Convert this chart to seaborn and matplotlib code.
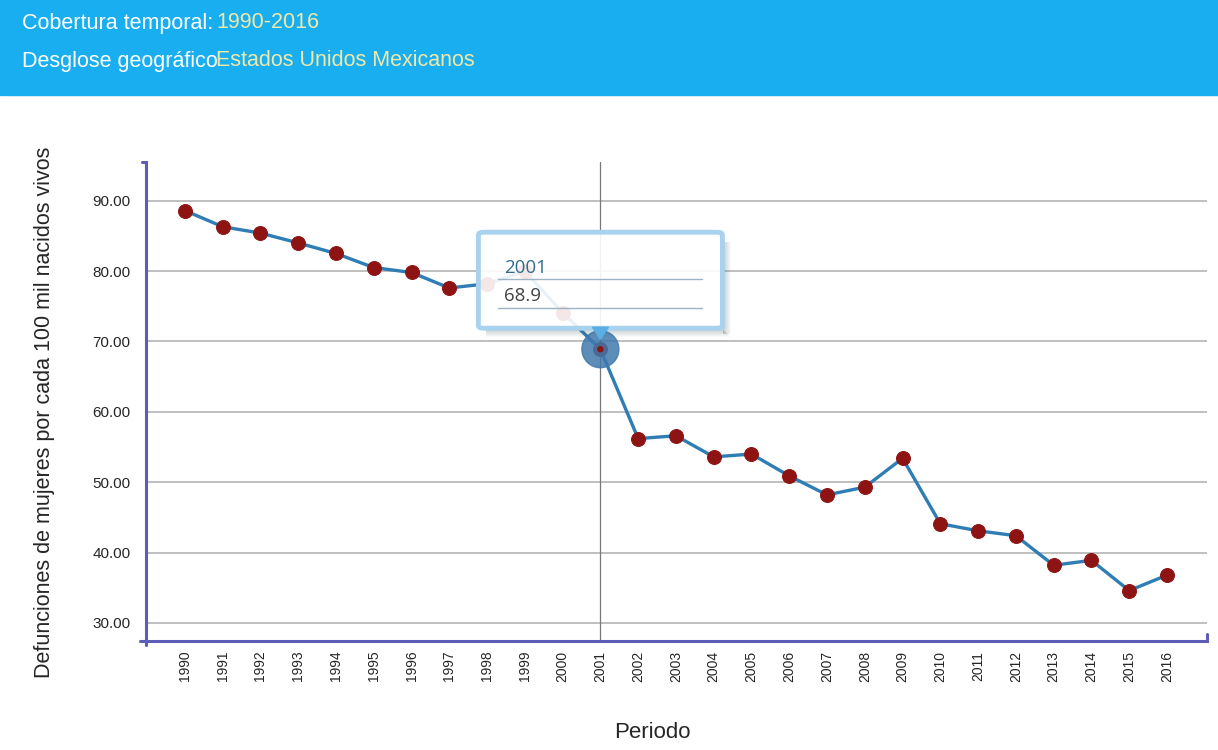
import matplotlib
matplotlib.use("Agg")
import matplotlib.pyplot as plt
import seaborn as sns
import pandas as pd
from matplotlib.patches import Rectangle, FancyBboxPatch, Polygon, Ellipse
from matplotlib.lines import Line2D

# ---- data ----
years = [1990, 1991, 1992, 1993, 1994, 1995, 1996, 1997, 1998, 1999, 2000, 2001, 2002,
         2003, 2004, 2005, 2006, 2007, 2008, 2009, 2010, 2011, 2012, 2013, 2014, 2015, 2016]
values = [88.6, 86.3, 85.4, 84.0, 82.5, 80.5, 79.8, 77.6, 78.2, 80.0, 74.1, 68.9, 56.2,
          56.6, 53.6, 54.0, 50.9, 48.2, 49.3, 53.4, 44.1, 43.1, 42.4, 38.2, 38.9, 34.6, 36.8]
y_ticks = [30, 40, 50, 60, 70, 80, 90]
header_labels = ["Cobertura temporal:", "Desglose geográfico"]
header_values = ["1990-2016", "Estados Unidos Mexicanos"]
y_title = "Defunciones de mujeres por cada 100 mil nacidos vivos"
x_title = "Periodo"
highlight_year = 2001

df = pd.DataFrame({"year": years, "value": values})

sns.set_style("white")
plt.rcParams["font.family"] = ["Liberation Sans", "DejaVu Sans"]

W, H = 1218, 750
fig = plt.figure(figsize=(W / 100, H / 100), dpi=100)

def fx(x):
    return x / W

def fy(y):
    return 1 - y / H

# header band
fig.patches.append(Rectangle((0, fy(95)), 1, 95 / H, transform=fig.transFigure,
                             color="#19aeef", zorder=0))
for i, (lab, val) in enumerate(zip(header_labels, header_values)):
    yy = fy(23 + i * 38)
    fig.text(fx(22), yy, lab, color="white", fontsize=15.5, va="center", ha="left")
    fig.text(fx(216), yy, val, color="#eee8aa", fontsize=15.5, va="center", ha="left")

ax = fig.add_axes([fx(146), fy(641), fx(1207) - fx(146), fy(162) - fy(641)])

spine_c = "#5d5db8"
line_c = "#2f7db5"
mark_c = "#8e1414"

ax.set_ylim(27.44, 95.5)
ax.set_xlim(years[0] - 1.03, years[-1] + 1.06)
ax.set_yticks(y_ticks)
ax.set_yticklabels([f"{v:.2f}" for v in y_ticks], fontsize=11)
ax.set_xticks(years)
ax.set_xticklabels([str(y) for y in years], rotation=90, fontsize=10)
ax.yaxis.grid(True, color="#b4b4b4", lw=1.2, zorder=0)
ax.xaxis.grid(False)
ax.set_axisbelow(True)
for s in ["top", "right"]:
    ax.spines[s].set_visible(False)
for s in ["left", "bottom"]:
    ax.spines[s].set_color(spine_c)
    ax.spines[s].set_linewidth(2.2)
ax.tick_params(axis="y", length=6, width=1.3, color=spine_c, pad=5)
ax.tick_params(axis="x", length=7, width=1.3, color=spine_c, pad=0)

# crosshair
ax.axvline(highlight_year, color="#777777", lw=0.9, zorder=1)

sns.lineplot(data=df, x="year", y="value", ax=ax, color=line_c, lw=2.4,
             marker="o", markersize=10, markerfacecolor=mark_c, markeredgecolor=mark_c,
             zorder=3)

ax.set_xlabel("")
ax.set_ylabel("")

# axis end caps
ax.add_line(Line2D([0, 0], [0, -0.009], transform=ax.transAxes, color=spine_c, lw=2.2, clip_on=False))
ax.add_line(Line2D([-0.006, 0], [0, 0], transform=ax.transAxes, color=spine_c, lw=2.2, clip_on=False))
ax.add_line(Line2D([-0.004, 0], [1, 1], transform=ax.transAxes, color=spine_c, lw=2.2, clip_on=False))
ax.add_line(Line2D([1, 1], [0, 0.015], transform=ax.transAxes, color=spine_c, lw=2.2, clip_on=False))

fig.text(fx(45), fy(412), y_title, rotation=90, fontsize=15.5, ha="center", va="center")
fig.text(fx(652), fy(733), x_title, fontsize=16, ha="center", va="center")

# highlight & tooltip anchored to the hovered data point
fig.canvas.draw()
hv = values[years.index(highlight_year)]
px, py_disp = ax.transData.transform((highlight_year, hv))
py = H - py_disp

fig.patches.append(Ellipse((fx(px), fy(py)), 37 / W, 37 / H, transform=fig.transFigure,
                           color="#4079ad", alpha=0.85, zorder=5))
fig.patches.append(Ellipse((fx(px), fy(py)), 5 / W, 5 / H, transform=fig.transFigure,
                           color=mark_c, zorder=6))

bl, br, bt, bb = px - 122, px + 122, py - 117, py - 21
# soft shadow on right and bottom edges only
for k in range(8):
    a = 0.28 * (1 - k / 8)
    fig.patches.append(Rectangle((fx(br + 1 + k), fy(bb + 6)), 1.1 / W, (bb - bt - 4) / H,
                                 transform=fig.transFigure, color="#3e5a62", alpha=a,
                                 lw=0, zorder=6))
    fig.patches.append(Rectangle((fx(bl + 8), fy(bb + k + 2.1)), (br - bl - 7 + k) / W, 1.1 / H,
                                 transform=fig.transFigure, color="#3e5a62", alpha=a,
                                 lw=0, zorder=6))
fig.patches.append(FancyBboxPatch((fx(bl), fy(bb)), (br - bl) / W, (bb - bt) / H,
                                  boxstyle="round,pad=0,rounding_size=0.004",
                                  transform=fig.transFigure, facecolor="white",
                                  edgecolor="none", alpha=0.9, zorder=7))
fig.patches.append(FancyBboxPatch((fx(bl), fy(bb)), (br - bl) / W, (bb - bt) / H,
                                  boxstyle="round,pad=0,rounding_size=0.004",
                                  transform=fig.transFigure, facecolor="none",
                                  edgecolor="#a8d2ee", lw=3.5, zorder=7.5))
fig.patches.append(Polygon([(fx(px - 8), fy(bb - 1)), (fx(px + 8), fy(bb - 1)), (fx(px), fy(bb + 11))],
                           closed=True, transform=fig.transFigure, color="#5aaee4", zorder=8))
tf = ["Open Sans", "DejaVu Sans"]
fig.text(fx(bl + 26), fy(bt + 36), str(highlight_year), color="#2f6d8f", fontsize=13.5,
         family=tf, va="center", ha="left", zorder=9)
fig.text(fx(bl + 26), fy(bt + 64), f"{hv:.1f}", color="#444444", fontsize=13.5,
         family=tf, va="center", ha="left", zorder=9)
for ly in (bt + 47, bt + 76):
    fig.lines.append(Line2D([fx(bl + 20), fx(br - 20)], [fy(ly), fy(ly)], transform=fig.transFigure,
                            color="#9db2c2", lw=1, zorder=9))

fig.savefig("out.png", dpi=100)
